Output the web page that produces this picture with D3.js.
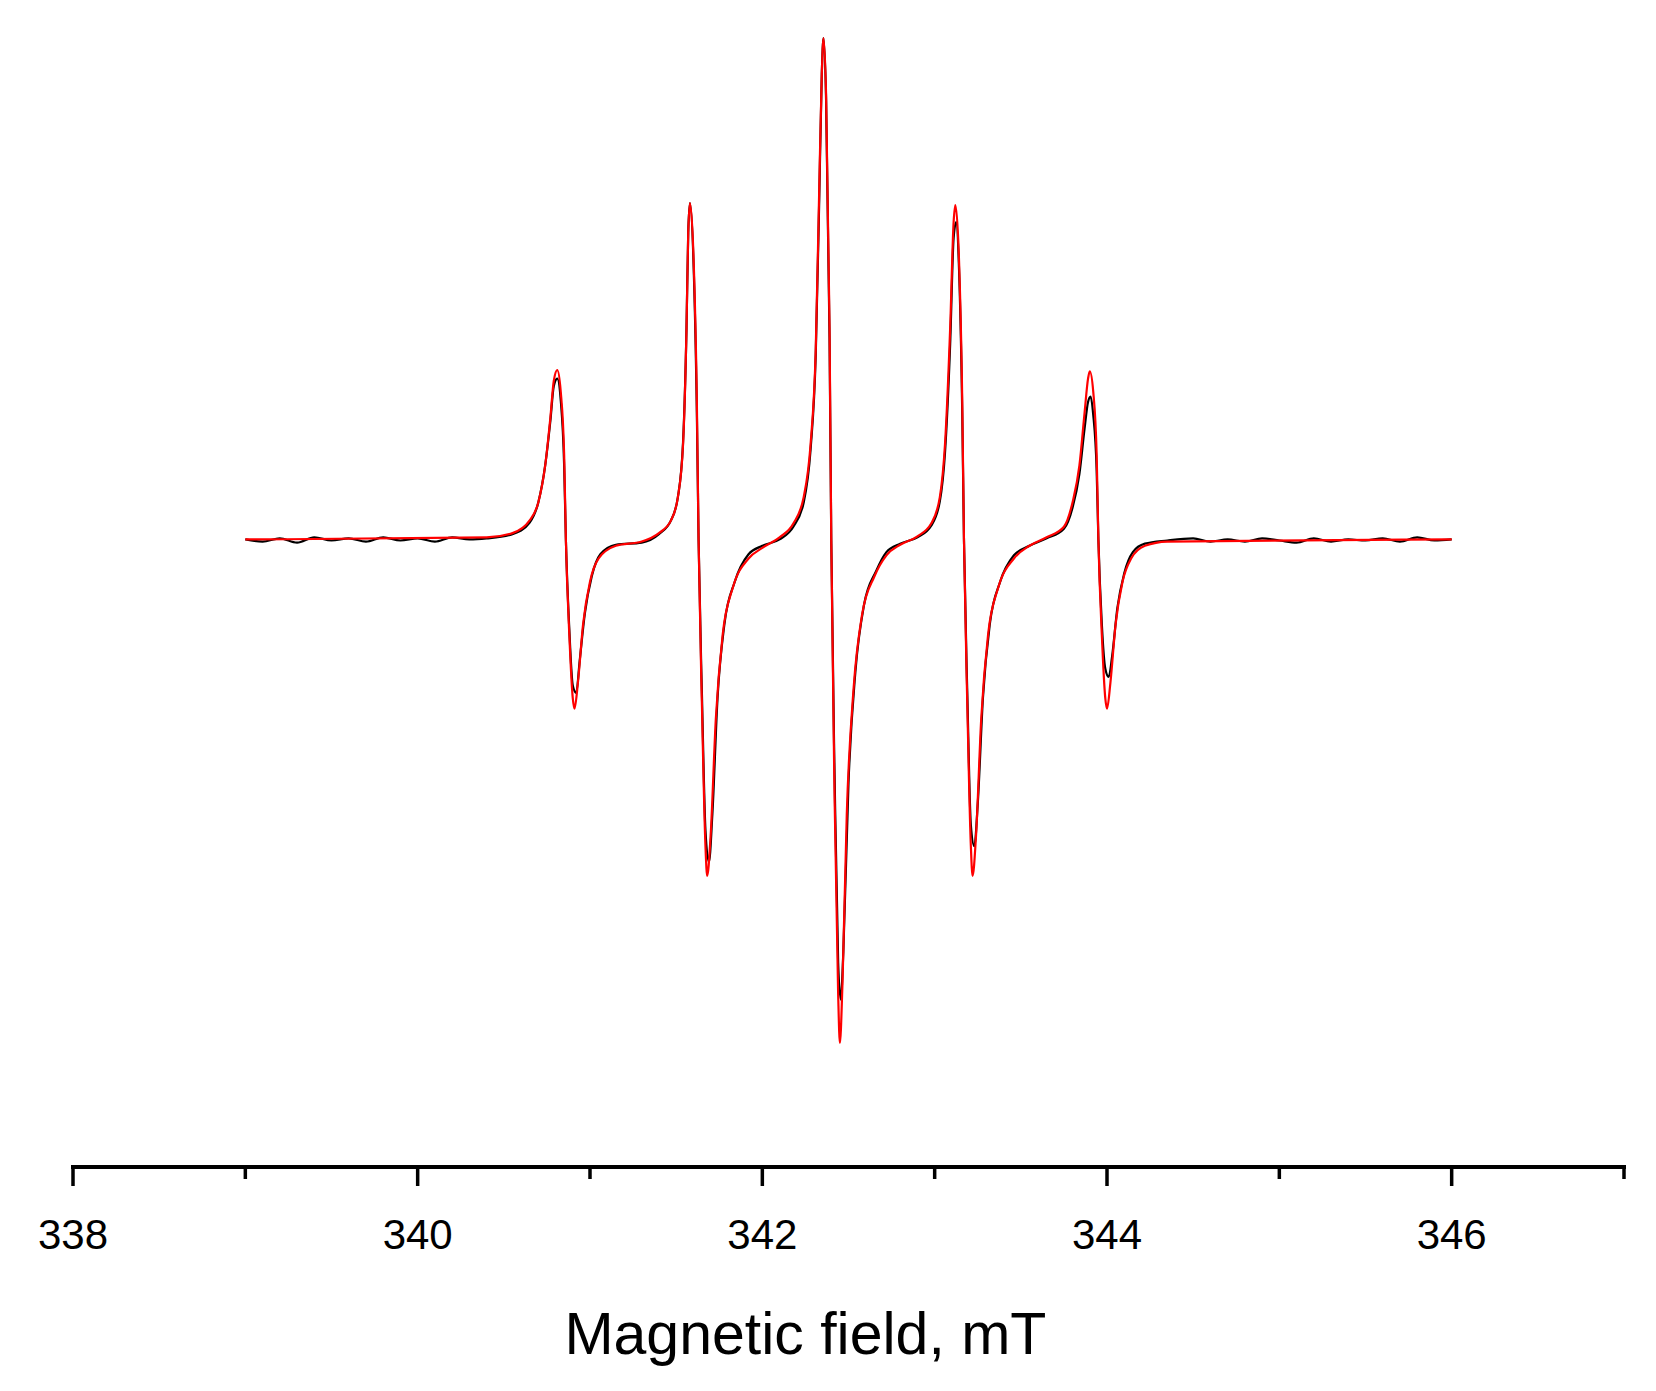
<!DOCTYPE html>
<html><head><meta charset="utf-8">
<script src="https://cdn.jsdelivr.net/npm/d3@7"></script>
<style>body{margin:0;background:#fff}</style></head>
<body><div id="chart"></div>
<script>
(() => {
  "use strict";

  // field (mT), signal (arb. units)
  const experiment = [
    [339.00,0],[339.10,-2],[339.20,1],[339.30,-3],[339.40,2],[339.50,-1],[339.60,1],[339.70,-2],[339.80,2],[339.90,-1],
    [340.00,1],[340.10,-2],[340.20,2],[340.30,0],[340.40,1],[340.55,5],[340.65,16],[340.70,35],[340.74,70],
    [340.77,112],[340.79,145],[340.81,152],[340.83,132],[340.85,70],[340.86,0],[340.88,-85],[340.90,-138],
    [340.92,-145],[340.94,-115],[340.97,-70],[341.01,-35],[341.06,-14],[341.15,-5],[341.30,-3],[341.40,5],
    [341.47,18],[341.51,40],[341.54,92],[341.56,200],[341.57,290],[341.58,318],[341.60,265],[341.62,120],
    [341.63,0],[341.65,-150],[341.67,-275],[341.69,-305],[341.71,-260],[341.74,-150],[341.78,-80],[341.84,-40],
    [341.92,-14],[342.00,-6],[342.10,0],[342.18,12],[342.24,35],[342.28,85],[342.31,175],[342.33,320],
    [342.345,440],[342.355,474],[342.37,415],[342.39,190],[342.40,0],[342.42,-230],[342.44,-400],[342.455,-435],
    [342.47,-390],[342.50,-230],[342.54,-125],[342.59,-62],[342.66,-30],[342.72,-12],[342.80,-4],[342.90,2],
    [342.98,13],[343.03,36],[343.06,82],[343.09,185],[343.11,285],[343.125,300],[343.14,262],[343.16,120],
    [343.17,0],[343.19,-150],[343.21,-270],[343.23,-290],[343.25,-250],[343.28,-150],[343.32,-80],[343.38,-40],
    [343.46,-15],[343.55,-6],[343.65,1],[343.75,10],[343.80,30],[343.84,62],[343.87,105],[343.89,130],
    [343.905,135],[343.92,118],[343.94,65],[343.95,0],[343.97,-80],[343.99,-122],[344.01,-130],[344.03,-110],
    [344.06,-65],[344.10,-32],[344.15,-12],[344.22,-4],[344.35,-1],[344.50,1],[344.60,-2],[344.70,0],
    [344.80,-2],[344.90,1],[345.00,-1],[345.10,-3],[345.20,1],[345.30,-2],[345.40,0],[345.50,-1],[345.60,1],
    [345.70,-2],[345.80,2],[345.90,-1],[346.00,0]
  ];

  const simulation = [
    [339.00,0],[340.40,2],[340.55,6],[340.65,18],[340.70,35],[340.74,70],[340.77,115],[340.79,150],[340.81,160],
    [340.83,140],[340.85,80],[340.86,0],[340.88,-90],[340.90,-150],[340.91,-160],[340.93,-135],[340.96,-80],
    [341.00,-40],[341.05,-18],[341.15,-6],[341.30,-2],[341.40,6],[341.47,18],[341.51,40],[341.54,90],
    [341.56,200],[341.57,290],[341.58,318],[341.60,270],[341.62,130],[341.63,0],[341.65,-160],[341.67,-290],
    [341.68,-318],[341.70,-280],[341.73,-170],[341.77,-90],[341.83,-45],[341.92,-18],[342.00,-8],[342.10,2],
    [342.18,15],[342.24,40],[342.28,90],[342.31,180],[342.33,330],[342.345,440],[342.355,474],[342.37,420],
    [342.39,200],[342.40,0],[342.42,-250],[342.44,-430],[342.45,-476],[342.465,-420],[342.49,-260],[342.53,-140],
    [342.58,-70],[342.65,-35],[342.72,-15],[342.80,-5],[342.90,3],[342.98,15],[343.03,40],[343.06,90],
    [343.09,200],[343.11,300],[343.12,316],[343.14,270],[343.16,130],[343.17,0],[343.19,-160],[343.21,-290],
    [343.22,-318],[343.24,-280],[343.27,-170],[343.31,-90],[343.37,-45],[343.46,-18],[343.55,-6],[343.65,2],
    [343.75,12],[343.80,35],[343.84,70],[343.87,120],[343.89,152],[343.90,159],[343.92,140],[343.94,80],
    [343.95,0],[343.97,-90],[343.99,-150],[344.00,-160],[344.02,-135],[344.05,-80],[344.09,-40],[344.14,-18],
    [344.22,-6],[344.35,-2],[346.00,0]
  ];

  const xTicks = [338,339,340,341,342,343,344,345,346,347];
  const xLabelTicks = [338,340,342,344,346];

  const width = 1656, height = 1391;
  const svg = d3.select("#chart").append("svg").attr("width", width).attr("height", height);

  const x = d3.scaleLinear().domain([338, 347]).range([73, 1624]);
  const y = d3.scaleLinear().domain([-476, 474]).range([1043, 38]);
  const axisY = 1167;

  const line = d3.line().x(d => x(d[0])).y(d => y(d[1])).curve(d3.curveMonotoneX);

  svg.append("path").datum(experiment).attr("d", line)
    .attr("fill", "none").attr("stroke", "#000").attr("stroke-width", 2.2);
  svg.append("path").datum(simulation).attr("d", line)
    .attr("fill", "none").attr("stroke", "#ff0000").attr("stroke-width", 2.2);

  const ax = svg.append("g").attr("transform", `translate(0,${axisY})`);
  ax.append("line").attr("x1", x(338) - 2).attr("x2", x(347) + 2)
    .attr("stroke", "#000").attr("stroke-width", 4);
  ax.selectAll("line.tick").data(xTicks).join("line").attr("class", "tick")
    .attr("x1", d => x(d)).attr("x2", d => x(d))
    .attr("y1", -2).attr("y2", d => xLabelTicks.includes(d) ? 19 : 12)
    .attr("stroke", "#000").attr("stroke-width", 3.5);
  ax.selectAll("text").data(xLabelTicks).join("text")
    .attr("x", d => x(d)).attr("y", 82)
    .attr("text-anchor", "middle")
    .style("font-family", "Liberation Sans, Arial, sans-serif").style("font-size", "42px")
    .text(d => d);

  svg.append("text").attr("x", x(342.25)).attr("y", 1354).attr("text-anchor", "middle")
    .style("font-family", "Liberation Sans, Arial, sans-serif").style("font-size", "59px")
    .text("Magnetic field, mT");
})();
</script></body></html>
